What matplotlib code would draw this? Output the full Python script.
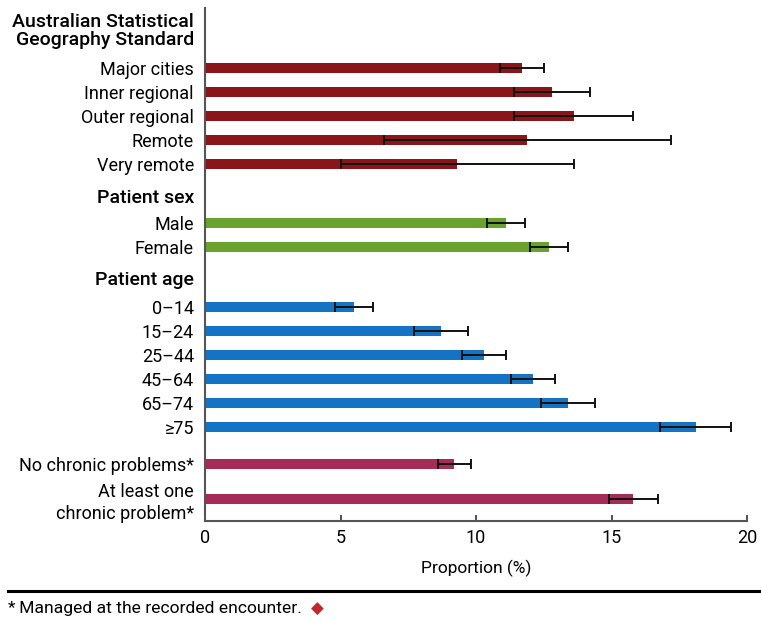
import matplotlib.pyplot as plt
from matplotlib.lines import Line2D

plt.rcParams['font.family'] = ['Roboto', 'DejaVu Sans']

# proportions with 95% confidence limits
geo_labels = ['Major cities', 'Inner regional', 'Outer regional', 'Remote', 'Very remote']
geo_values = [11.7, 12.8, 13.6, 11.9, 9.3]
geo_lower = [10.9, 11.4, 11.4, 6.6, 5.0]
geo_upper = [12.5, 14.2, 15.8, 17.2, 13.6]

sex_labels = ['Male', 'Female']
sex_values = [11.1, 12.7]
sex_lower = [10.4, 12.0]
sex_upper = [11.8, 13.4]

age_labels = ['0\u201314', '15\u201324', '25\u201344', '45\u201364', '65\u201374', '\u226575']
age_values = [5.5, 8.7, 10.3, 12.1, 13.4, 18.1]
age_lower = [4.8, 7.7, 9.5, 11.3, 12.4, 16.8]
age_upper = [6.2, 9.7, 11.1, 12.9, 14.4, 19.4]

chronic_labels = ['No chronic problems*', 'At least one\nchronic problem*']
chronic_values = [9.2, 15.8]
chronic_lower = [8.6, 14.9]
chronic_upper = [9.8, 16.7]

groups = [
    ('Australian Statistical\nGeography Standard', geo_labels, geo_values, geo_lower, geo_upper, '#8b1619'),
    ('Patient sex', sex_labels, sex_values, sex_lower, sex_upper, '#69a22d'),
    ('Patient age', age_labels, age_values, age_lower, age_upper, '#1473c3'),
    (None, chronic_labels, chronic_values, chronic_lower, chronic_upper, '#a62b57'),
]
gap_before = [0, 35, 36, 13]
header_offset = [37, 25, 27, 0]
last_gap = [0, 0, 0, 11]

fig = plt.figure(figsize=(7.61, 6.22), dpi=100)
ax = fig.add_axes([205 / 761, 1 - 521 / 622, 542 / 761, 513 / 622])

step = 24
y = 68 - step
ytick_pos, ytick_lab = [], []
for gi, (title, labels, values, lower, upper, color) in enumerate(groups):
    y += gap_before[gi]
    ys = []
    for i in range(len(labels)):
        y += step
        if i == len(labels) - 1:
            y += last_gap[gi]
        ys.append(y)
    xerr = [[v - lo for v, lo in zip(values, lower)],
            [hi - v for v, hi in zip(values, upper)]]
    ax.barh(ys, values, height=10, color=color, xerr=xerr,
            error_kw=dict(ecolor='#111111', elinewidth=1.4, capsize=3.8, capthick=1.4))
    ytick_pos += ys
    ytick_lab += labels
    if title:
        ax.text(-0.02, ys[0] - header_offset[gi], title, transform=ax.get_yaxis_transform(),
                ha='right', va='center', fontsize=14, fontweight='medium',
                linespacing=1.05)

ax.set_yticks(ytick_pos, ytick_lab)
ax.tick_params(axis='y', length=0, pad=8, labelsize=13)
for lab in ax.get_yticklabels():
    lab.set_linespacing(1.3)

ax.set_ylim(521, 8)
ax.set_xlim(0, 20)
ax.set_xticks([0, 5, 10, 15, 20])
ax.tick_params(axis='x', direction='in', length=4, width=1.2, pad=6, labelsize=13,
               color='#333333')
ax.set_xlabel('Proportion (%)', fontsize=12.5, labelpad=9)

for side in ['top', 'right']:
    ax.spines[side].set_visible(False)
for side in ['left', 'bottom']:
    ax.spines[side].set_color('#555555')
    ax.spines[side].set_linewidth(1.5)

fig.add_artist(Line2D([8 / 761, 1.0], [1 - 591 / 622] * 2, color='black', lw=2.2))
fig.text(8 / 761, 1 - 609 / 622, '*\u2009Managed at the recorded encounter.',
         ha='left', va='center', fontsize=12.6)
fig.text(311 / 761, 1 - 609 / 622, '\u25c6', color='#c1272d', ha='left', va='center',
         fontsize=12, family='DejaVu Sans')

fig.savefig('out.png', dpi=100)
